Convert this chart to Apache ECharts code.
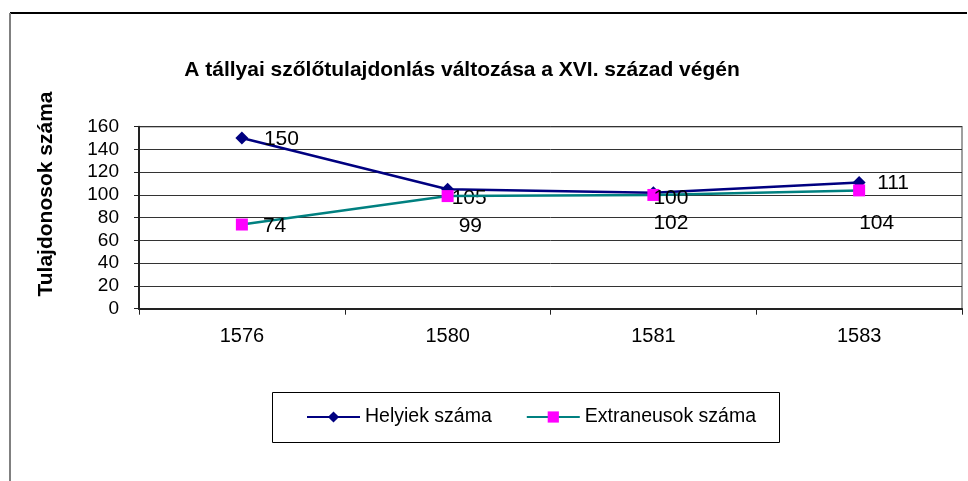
<!DOCTYPE html>
<html>
<head>
<meta charset="utf-8">
<script src="https://cdn.jsdelivr.net/npm/echarts@6/dist/echarts.min.js"></script>
<style>
html,body{margin:0;padding:0;background:#fff;}
#c{width:968px;height:481px;}
</style>
</head>
<body>
<div id="c"></div>
<script>
var categories = ['1576', '1580', '1581', '1583'];
var helyiek = [150, 105, 102, 111];
var extraneusok = [74, 99, 100, 104];
var yTicks = [0, 20, 40, 60, 80, 100, 120, 140, 160];
var titleText = 'A tállyai szőlőtulajdonlás változása a XVI. század végén';
var yTitle = 'Tulajdonosok száma';
var seriesNames = ['Helyiek száma', 'Extraneusok száma'];

// label placement (style only)
var helyiekLabelOffsets = [[22, 1], [4, 9], [0, 31], [18, 1]];
var extraLabelOffsets = [[21, 2], [11, 30], [0, 3], [0, 33]];

var FONT = 'Liberation Sans, Arial, sans-serif';

function buildData(values, offsets) {
  return values.map(function (v, i) {
    return {
      value: v,
      label: { offset: offsets[i] }
    };
  });
}

var chart = echarts.init(document.getElementById('c'), null, { renderer: 'canvas' });
chart.setOption({
  animation: false,
  backgroundColor: '#ffffff',
  textStyle: { fontFamily: FONT },
  title: {
    text: titleText,
    left: 462,
    top: 60,
    padding: 0,
    textAlign: 'center',
    textStyle: { fontFamily: FONT, fontSize: 21, fontWeight: 'bold', color: '#000' }
  },
  graphic: [
    { type: 'line', shape: { x1: 10, y1: 13, x2: 967, y2: 13 }, style: { stroke: '#000', lineWidth: 2 } },
    { type: 'line', shape: { x1: 10, y1: 13, x2: 10, y2: 481 }, style: { stroke: '#808080', lineWidth: 2 } },
    { type: 'rect', shape: { x: 272.5, y: 392.5, width: 507, height: 50 }, style: { fill: '#fff', stroke: '#000', lineWidth: 1 }, z: 0 },
    {
      type: 'text', x: 46, y: 194, rotation: Math.PI / 2,
      style: { text: yTitle, fontFamily: FONT, fontSize: 21, fontWeight: 'bold', fill: '#000', align: 'center', verticalAlign: 'middle' }
    }
  ],
  legend: {
    left: 306,
    top: 407,
    padding: 0,
    itemGap: 34,
    itemWidth: 53,
    itemHeight: 14,
    textStyle: { fontFamily: FONT, fontSize: 19.5, color: '#000' },
    data: seriesNames,
    z: 5
  },
  grid: { left: 139, right: 6, top: 126.7, bottom: 172.3, show: true, borderColor: '#808080', borderWidth: 1.5 },
  xAxis: {
    type: 'category',
    data: categories,
    boundaryGap: true,
    axisLine: { lineStyle: { color: '#222', width: 2 } },
    axisTick: { show: true, length: 6, lineStyle: { color: '#222' } },
    axisLabel: { fontFamily: FONT, fontSize: 20, color: '#000', margin: 18 }
  },
  yAxis: {
    type: 'value',
    min: yTicks[0],
    max: yTicks[yTicks.length - 1],
    interval: 20,
    axisLine: { show: true, lineStyle: { color: '#222', width: 2 } },
    axisTick: { show: true, length: 5, lineStyle: { color: '#222' } },
    axisLabel: { fontFamily: FONT, fontSize: 19, color: '#000', margin: 20 },
    splitLine: { lineStyle: { color: '#333', width: 1 } }
  },
  series: [
    {
      name: seriesNames[0],
      type: 'line',
      data: buildData(helyiek, helyiekLabelOffsets),
      symbol: 'diamond',
      symbolSize: 13,
      lineStyle: { color: '#000080', width: 2.5 },
      itemStyle: { color: '#000080' },
      label: {
        show: true, position: 'inside', align: 'left', verticalAlign: 'middle',
        fontFamily: FONT, fontSize: 21, color: '#000'
      },
      z: 3
    },
    {
      name: seriesNames[1],
      type: 'line',
      data: buildData(extraneusok, extraLabelOffsets),
      symbol: 'rect',
      symbolSize: 12,
      lineStyle: { color: '#008080', width: 2.5 },
      itemStyle: { color: '#FF00FF' },
      label: {
        show: true, position: 'inside', align: 'left', verticalAlign: 'middle',
        fontFamily: FONT, fontSize: 21, color: '#000'
      },
      z: 4
    }
  ]
});
</script>
</body>
</html>
